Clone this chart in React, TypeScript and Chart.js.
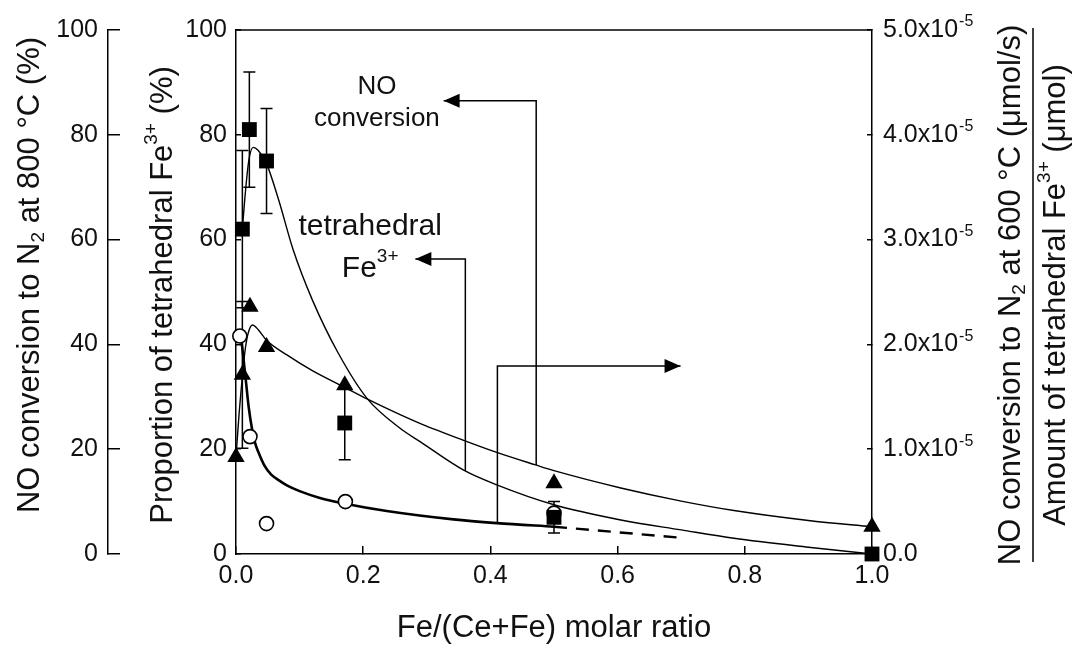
import React, { useEffect, useRef } from "react";
import { Chart, registerables } from "chart.js";

Chart.register(...registerables);

const FONT = '"Liberation Sans", Arial, Helvetica, sans-serif';
const INK = "#111";
const TITLE = 31;

// ---- measured samples: Fe/(Ce+Fe) molar ratio ----
const squareX = [0.01, 0.021, 0.048, 0.171, 0.5, 1.0];
const squareFe3 = [62, 81, 75, 25, 7, 0]; // Proportion of tetrahedral Fe3+ (%)
const squareErr = [15, 11, 10, 7, 3, 0];

const triangleX = [0, 0.01, 0.022, 0.048, 0.171, 0.5, 1.0];
const triangleNO800 = [18.5, 34.2, 47.2, 39.5, 32.2, 13.5, 5.2]; // NO conversion at 800 C (%)
const triangleErr = [0, 14, 0, 0, 0, 0, 0];

const circleX = [0.006, 0.022, 0.048, 0.172, 0.5];
const circleRate = [2.08, 1.12, 0.29, 0.5, 0.39]; // x10^-5 (umol/s)/(umol)

// ---- fitted guide curves ----
const fe3CurveX = [0.01, 0.014, 0.02, 0.027, 0.035, 0.048, 0.067, 0.09, 0.12, 0.16, 0.206, 0.258, 0.29, 0.358, 0.41, 0.5, 0.605, 0.7, 0.783, 0.9, 1.0];
const fe3CurveY = [62, 68, 75, 77.6, 77, 74.5, 67.6, 58, 48.5, 38.5, 29.7, 24.0, 21.4, 16.0, 13.2, 9.4, 6.5, 4.6, 3.0, 1.3, 0];

const no800CurveX = [0, 0.005, 0.01, 0.015, 0.02, 0.026, 0.035, 0.048, 0.08, 0.12, 0.171, 0.206, 0.258, 0.29, 0.358, 0.41, 0.471, 0.5, 0.605, 0.7, 0.783, 0.9, 1.0];
const no800CurveY = [18.5, 27, 34, 39.5, 42.5, 43.7, 42.8, 40.8, 38.0, 35.0, 31.8, 29.6, 26.6, 24.9, 21.7, 19.4, 17.0, 15.9, 12.6, 10.1, 8.3, 6.4, 5.2];

const rateCurveX = [0.006, 0.009, 0.012, 0.016, 0.02, 0.025, 0.03, 0.035, 0.045, 0.055, 0.067, 0.08, 0.1, 0.132, 0.172, 0.237, 0.342, 0.41, 0.5];
const rateCurveY = [2.075, 2.01, 1.85, 1.625, 1.4, 1.2, 1.06, 0.975, 0.84, 0.76, 0.705, 0.655, 0.6, 0.535, 0.48, 0.41, 0.33, 0.295, 0.26];

const rateDashX = [0.5, 0.7];
const rateDashY = [0.26, 0.155];

// ---- axis ticks ----
const xTickStep = 0.2;
const leftTickStep = 20;
const rightTickStep = 1;
const rightExponent = "-5";

type Seg = { t: string; size: number; dy?: number };

const fmtRight = (v: number) => (v === 0 ? "0.0" : v.toFixed(1) + "x10");

function richWidth(ctx: CanvasRenderingContext2D, segs: Seg[]) {
  let w = 0;
  for (const s of segs) {
    ctx.font = `${s.size}px ${FONT}`;
    w += ctx.measureText(s.t).width;
  }
  return w;
}

function drawRich(ctx: CanvasRenderingContext2D, segs: Seg[], cx: number, cy: number, rot: number) {
  ctx.save();
  ctx.translate(cx, cy);
  ctx.rotate(rot);
  ctx.textBaseline = "middle";
  ctx.textAlign = "left";
  ctx.fillStyle = INK;
  let x = -richWidth(ctx, segs) / 2;
  for (const s of segs) {
    ctx.font = `${s.size}px ${FONT}`;
    ctx.fillText(s.t, x, s.dy || 0);
    x += ctx.measureText(s.t).width;
  }
  ctx.restore();
}

const pts = (xs: number[], ys: number[]) => xs.map((x, i) => ({ x, y: ys[i] }));

const annotationPlugin = {
  id: "annotations",
  beforeDatasetsDraw(chart: any) {
    const ctx: CanvasRenderingContext2D = chart.ctx;
    const sx = chart.scales.x;
    const drawErr = (xs: number[], ys: number[], errs: number[], sid: string) => {
      const sy = chart.scales[sid];
      ctx.save();
      ctx.strokeStyle = "#000";
      ctx.lineWidth = 1.5;
      xs.forEach((xv, i) => {
        const e = errs[i];
        if (!e) return;
        const px = sx.getPixelForValue(xv);
        const t = sy.getPixelForValue(ys[i] + e);
        const b = sy.getPixelForValue(ys[i] - e);
        ctx.beginPath();
        ctx.moveTo(px, t);
        ctx.lineTo(px, b);
        ctx.moveTo(px - 6, t);
        ctx.lineTo(px + 6, t);
        ctx.moveTo(px - 6, b);
        ctx.lineTo(px + 6, b);
        ctx.stroke();
      });
      ctx.restore();
    };
    drawErr(squareX, squareFe3, squareErr, "y");
    drawErr(triangleX, triangleNO800, triangleErr, "y1");
  },
  afterDatasetsDraw(chart: any) {
    const ctx: CanvasRenderingContext2D = chart.ctx;
    const sx = chart.scales.x;
    const arrow = (path: number[][], sid: string) => {
      const sy = chart.scales[sid];
      const p = path.map(([a, b]) => [sx.getPixelForValue(a), sy.getPixelForValue(b)]);
      ctx.save();
      ctx.strokeStyle = "#000";
      ctx.fillStyle = "#000";
      ctx.lineWidth = 1.5;
      ctx.beginPath();
      ctx.moveTo(p[0][0], p[0][1]);
      for (let i = 1; i < p.length; i++) ctx.lineTo(p[i][0], p[i][1]);
      ctx.stroke();
      const [tx, ty] = p[p.length - 1];
      const dir = Math.sign(tx - p[p.length - 2][0]);
      ctx.beginPath();
      ctx.moveTo(tx, ty);
      ctx.lineTo(tx - dir * 16, ty - 7);
      ctx.lineTo(tx - dir * 16, ty + 7);
      ctx.closePath();
      ctx.fill();
      ctx.restore();
    };
    arrow([[0.472, 17.0], [0.472, 86.5], [0.3265, 86.5]], "y1");
    arrow([[0.3606, 15.9], [0.3606, 56.3], [0.282, 56.3]], "y");
    arrow([[0.411, 0.295], [0.411, 1.795], [0.699, 1.795]], "y2");

    const sy = chart.scales.y;
    const label = (segs: Seg[], xv: number, yv: number) =>
      drawRich(ctx, segs, sx.getPixelForValue(xv), sy.getPixelForValue(yv), 0);
    label([{ t: "NO", size: 26 }], 0.2216, 89.2);
    label([{ t: "conversion", size: 26 }], 0.2216, 83.0);
    label([{ t: "tetrahedral", size: 30 }], 0.211, 62.5);
    label([{ t: "Fe", size: 30 }, { t: "3+", size: 19, dy: -12 }], 0.211, 54.4);
  },
  afterDraw(chart: any) {
    const ctx: CanvasRenderingContext2D = chart.ctx;
    const ca = chart.chartArea;
    const midY = (ca.top + ca.bottom) / 2;
    const y1s = chart.scales.y1;
    const ys = chart.scales.y;
    const y2s = chart.scales.y2;

    // top frame line
    ctx.save();
    ctx.strokeStyle = "#000";
    ctx.lineWidth = 1.5;
    ctx.beginPath();
    ctx.moveTo(ca.left, ca.top);
    ctx.lineTo(ca.right, ca.top);
    ctx.stroke();
    ctx.restore();

    // axis titles with sub/superscripts
    const R = -Math.PI / 2;
    drawRich(ctx, [
      { t: "NO conversion to N", size: TITLE },
      { t: "2", size: 19, dy: 9 },
      { t: " at 800 \u00B0C (%)", size: TITLE },
    ], y1s.left + 30, midY - 17, R);
    drawRich(ctx, [
      { t: "Proportion of tetrahedral Fe", size: TITLE },
      { t: "3+", size: 19, dy: -11 },
      { t: " (%)", size: TITLE },
    ], ys.left + 55, midY + 3, R);
    drawRich(ctx, [
      { t: "NO conversion to N", size: TITLE },
      { t: "2", size: 19, dy: 9 },
      { t: " at 600 \u00B0C (\u03BCmol/s)", size: TITLE },
    ], y2s.left + 139, midY + 3, R);
    drawRich(ctx, [
      { t: "Amount of tetrahedral Fe", size: TITLE },
      { t: "3+", size: 19, dy: -11 },
      { t: " (\u03BCmol)", size: TITLE },
    ], y2s.left + 184, midY + 3, R);
    ctx.save();
    ctx.strokeStyle = "#000";
    ctx.lineWidth = 1.5;
    ctx.beginPath();
    ctx.moveTo(y2s.left + 161, ca.top - 2);
    ctx.lineTo(y2s.left + 161, ca.bottom + 8);
    ctx.stroke();
    ctx.restore();

    // exponent on right-axis tick labels
    ctx.save();
    ctx.fillStyle = INK;
    ctx.textBaseline = "middle";
    ctx.textAlign = "left";
    const x0 = y2s.left + y2s.options.grid.tickLength + y2s.options.ticks.padding;
    y2s.ticks.forEach((t: any) => {
      if (t.value === 0) return;
      ctx.font = `25px ${FONT}`;
      const w = ctx.measureText(fmtRight(t.value)).width;
      ctx.font = `16px ${FONT}`;
      ctx.fillText(rightExponent, x0 + w + 1, y2s.getPixelForValue(t.value) - 8);
    });
    ctx.restore();
  },
};

const noPad = (s: any) => {
  s.paddingTop = 0;
  s.paddingBottom = 0;
  s.paddingLeft = 0;
  s.paddingRight = 0;
};

export default function App() {
  const ref = useRef<HTMLCanvasElement | null>(null);

  useEffect(() => {
    if (!ref.current) return;
    Chart.defaults.font.family = FONT;
    const tickFont = { size: 25, family: FONT };
    const gridBase = { drawOnChartArea: false, drawTicks: true, color: "#000", lineWidth: 1.5 };
    const border = { display: true, color: "#000", width: 1.5 };

    const chart = new Chart(ref.current, {
      type: "line",
      data: {
        datasets: [
          {
            label: "Proportion of tetrahedral Fe3+",
            data: pts(squareX, squareFe3),
            yAxisID: "y",
            showLine: false,
            pointStyle: "rect",
            pointRadius: 10.5,
            pointBackgroundColor: "#000",
            pointBorderColor: "#000",
            pointBorderWidth: 0,
            clip: false,
          },
          {
            label: "NO conversion at 800 C",
            data: pts(triangleX, triangleNO800),
            yAxisID: "y1",
            showLine: false,
            pointStyle: "triangle",
            pointRadius: 10,
            pointBackgroundColor: "#000",
            pointBorderColor: "#000",
            pointBorderWidth: 0,
            clip: false,
          },
          {
            label: "NO conversion at 600 C per Fe3+",
            data: pts(circleX, circleRate),
            yAxisID: "y2",
            showLine: false,
            pointStyle: "circle",
            pointRadius: 7,
            pointBackgroundColor: "#fff",
            pointBorderColor: "#000",
            pointBorderWidth: 1.6,
            clip: false,
          },
          {
            label: "Fe3+ fit",
            data: pts(fe3CurveX, fe3CurveY),
            yAxisID: "y",
            borderColor: "#000",
            borderWidth: 1.4,
            pointRadius: 0,
            cubicInterpolationMode: "monotone",
            fill: false,
          },
          {
            label: "NO 800 fit",
            data: pts(no800CurveX, no800CurveY),
            yAxisID: "y1",
            borderColor: "#000",
            borderWidth: 1.4,
            pointRadius: 0,
            cubicInterpolationMode: "monotone",
            fill: false,
          },
          {
            label: "rate fit",
            data: pts(rateCurveX, rateCurveY),
            yAxisID: "y2",
            borderColor: "#000",
            borderWidth: 2.6,
            pointRadius: 0,
            cubicInterpolationMode: "monotone",
            fill: false,
          },
          {
            label: "rate extrapolation",
            data: pts(rateDashX, rateDashY),
            yAxisID: "y2",
            borderColor: "#000",
            borderWidth: 2.4,
            borderDash: [13, 9],
            pointRadius: 0,
            fill: false,
          },
        ],
      },
      options: {
        animation: false,
        responsive: false,
        maintainAspectRatio: false,
        layout: { padding: { top: 30, left: 0, right: 0, bottom: 0 } },
        plugins: { legend: { display: false }, tooltip: { enabled: false } },
        scales: {
          x: {
            type: "linear",
            position: "bottom",
            min: 0,
            max: 1,
            ticks: {
              stepSize: xTickStep,
              callback: (v: any) => Number(v).toFixed(1),
              font: tickFont,
              color: INK,
              padding: 15,
              maxRotation: 0,
              autoSkip: false,
            },
            grid: { ...gridBase, tickLength: -8 },
            border,
            title: {
              display: true,
              text: "Fe/(Ce+Fe) molar ratio",
              font: { size: TITLE, family: FONT },
              color: INK,
              padding: { top: 0, bottom: 2 },
            },
            afterFit: (s: any) => {
              s.height = 95;
              noPad(s);
            },
          },
          y: {
            type: "linear",
            position: "left",
            weight: 0,
            min: 0,
            max: 100,
            ticks: { stepSize: leftTickStep, font: tickFont, color: INK, padding: 14 },
            grid: { ...gridBase, tickLength: -5 },
            border,
            afterFit: (s: any) => {
              s.width = 128;
              noPad(s);
            },
          },
          y1: {
            type: "linear",
            position: "left",
            weight: 1,
            min: 0,
            max: 100,
            ticks: { stepSize: leftTickStep, font: tickFont, color: INK, padding: 22 },
            grid: { ...gridBase, tickLength: -12 },
            border,
            afterFit: (s: any) => {
              s.width = 108;
              noPad(s);
            },
          },
          y2: {
            type: "linear",
            position: "right",
            min: 0,
            max: 5,
            ticks: {
              stepSize: rightTickStep,
              callback: (v: any) => fmtRight(Number(v)),
              font: tickFont,
              color: INK,
              padding: 16,
            },
            grid: { ...gridBase, tickLength: -5 },
            border,
            afterFit: (s: any) => {
              s.width = 214;
              noPad(s);
            },
          },
        },
      } as any,
      plugins: [annotationPlugin],
    });
    return () => chart.destroy();
  }, []);

  return (
    <div style={{ position: "fixed", left: 0, top: 0, width: 1086, height: 649, background: "#fff" }}>
      <canvas ref={ref} width={1086} height={649} style={{ width: 1086, height: 649, display: "block" }} />
    </div>
  );
}
